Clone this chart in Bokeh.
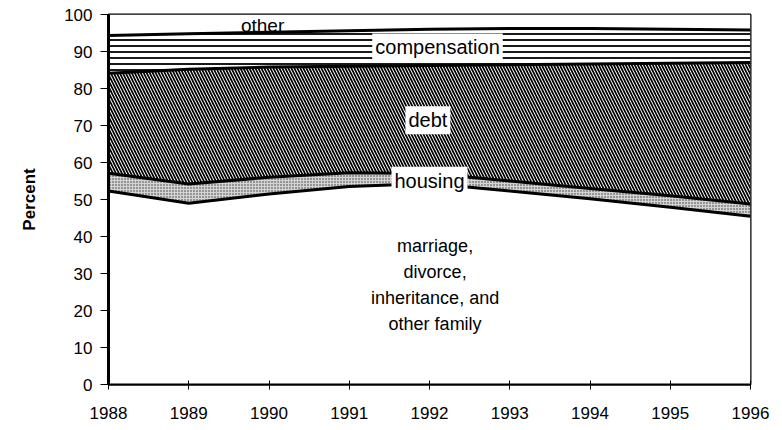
from bokeh.plotting import figure
from bokeh.models import ColumnDataSource, Range1d, FixedTicker
from bokeh.core.properties import value
from bokeh.transform import stack as stk
from bokeh.embed import file_html
from bokeh.resources import INLINE

years = [1988, 1989, 1990, 1991, 1992, 1993, 1994, 1995, 1996]
marriage = [52.3, 49.0, 51.5, 53.5, 54.3, 52.3, 50.2, 47.9, 45.5]
housing = [4.8, 5.2, 4.5, 3.7, 2.7, 2.7, 2.8, 3.1, 3.3]
debt = [27.0, 31.0, 29.8, 28.8, 29.2, 31.4, 33.6, 35.8, 38.2]
compensation = [10.2, 9.6, 9.4, 9.6, 9.8, 9.8, 9.6, 9.2, 8.8]
other = [5.7, 5.2, 4.8, 4.4, 4.0, 3.8, 3.8, 4.0, 4.2]

y_ticks = [0, 10, 20, 30, 40, 50, 60, 70, 80, 90, 100]

label_text = ["compensation", "debt", "housing"]
label_x = [1992.1, 1991.98, 1992.0]
label_y = [91.1, 71.4, 55.1]
other_text = ["other"]
other_x = [1989.92]
other_y = [97.0]
family_text = ["marriage,\ndivorce,\ninheritance, and\nother family"]
family_x = [1992.07]
family_y = [26.8]

FONT = "Liberation Sans"

src = ColumnDataSource(dict(year=years, marriage=marriage, housing=housing,
                            debt=debt, compensation=compensation, other=other))

p = figure(width=782, height=430, output_backend="svg", toolbar_location=None,
           x_range=Range1d(1988, 1996), y_range=Range1d(0, 100),
           min_border_left=108, min_border_right=32, min_border_top=14,
           min_border_bottom=46)
p.background_fill_color = "white"
p.border_fill_color = "white"
p.outline_line_color = "black"
p.outline_line_width = 2
p.grid.visible = False

stack = ["marriage", "housing", "debt", "compensation", "other"]
p.varea(x="year", y1=0, y2=stk("marriage"), source=src, fill_color="white")
p.varea(x="year", y1=stk("marriage"), y2=stk("marriage", "housing"), source=src,
        fill_color="#d4d4d4", hatch_pattern="dot", hatch_color="#333333",
        hatch_scale=3, hatch_weight=1)
p.varea(x="year", y1=stk("marriage", "housing"), y2=stk("marriage", "housing", "debt"),
        source=src, fill_color="white", hatch_pattern="left_diagonal_line",
        hatch_color="black", hatch_scale=6, hatch_weight=1.7)
p.varea(x="year", y1=stk("marriage", "housing", "debt"),
        y2=stk("marriage", "housing", "debt", "compensation"), source=src,
        fill_color="white", hatch_pattern="horizontal_line", hatch_color="black",
        hatch_scale=6, hatch_weight=1.8)
p.varea(x="year", y1=stk("marriage", "housing", "debt", "compensation"),
        y2=stk(*stack), source=src, fill_color="white")

# boundary lines
p.vline_stack(stack[:4], x="year", source=src, line_color="black", line_width=3)

# labels
lsrc = ColumnDataSource(dict(x=label_x, y=label_y, t=label_text))
p.text(x="x", y="y", text="t", source=lsrc, text_font=value(FONT),
       text_font_size="20px", text_align="center", text_baseline="middle",
       text_color="black", background_fill_color="white", padding=3)
osrc = ColumnDataSource(dict(x=other_x, y=other_y, t=other_text))
p.text(x="x", y="y", text="t", source=osrc, text_font=value(FONT),
       text_font_size="19px", text_align="center", text_baseline="middle",
       text_color="black")
fsrc = ColumnDataSource(dict(x=family_x, y=family_y, t=family_text))
p.text(x="x", y="y", text="t", source=fsrc, text_font=value(FONT),
       text_font_size="18px", text_align="center", text_baseline="middle",
       text_color="black", text_line_height=1.3)

# axes
p.yaxis.ticker = FixedTicker(ticks=y_ticks)
p.xaxis.ticker = FixedTicker(ticks=years)
p.yaxis.axis_label = "Percent"
p.yaxis.axis_label_text_font = FONT
p.yaxis.axis_label_text_font_style = "bold"
p.yaxis.axis_label_text_font_size = "17px"
p.yaxis.axis_label_text_color = "black"
p.yaxis.axis_label_standoff = 22
for ax in (p.xaxis[0], p.yaxis[0]):
    ax.major_label_text_font = FONT
    ax.major_label_text_font_size = "17px"
    ax.major_label_text_color = "black"
    ax.axis_line_color = "black"
    ax.major_tick_line_color = "black"
    ax.minor_tick_line_color = None
p.yaxis.axis_line_width = 3
p.yaxis.major_tick_in = 0
p.yaxis.major_tick_out = 8
p.yaxis.major_label_standoff = 8
p.xaxis.axis_line_width = 2
p.xaxis.major_tick_in = 4
p.xaxis.major_tick_out = 5
p.xaxis.major_label_standoff = 17

open("out.html", "w").write(file_html(p, INLINE))
